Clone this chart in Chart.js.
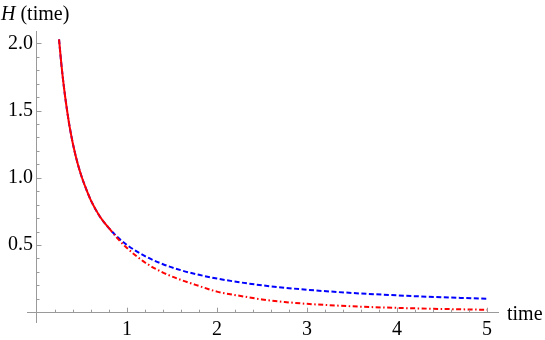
<!DOCTYPE html>
<html>
<head>
<meta charset="utf-8">
<script src="https://cdn.jsdelivr.net/npm/chart.js@4"></script>
<style>
  html, body { margin: 0; padding: 0; background: #fff; }
  #wrap { width: 545px; height: 340px; }
</style>
</head>
<body>
<div id="wrap"><canvas id="h-time"></canvas></div>
<script>
// values
const blueTimes = [0.245, 0.27, 0.3, 0.33, 0.36, 0.4, 0.45, 0.5, 0.55, 0.6, 0.7, 0.8, 0.9, 1.0, 1.2, 1.4, 1.6, 1.8, 2.0, 2.5, 3.0, 3.5, 4.0, 4.5, 5.0];
const blueValues = [2.03, 1.85, 1.67, 1.52, 1.39, 1.25, 1.11, 1.0, 0.91, 0.83, 0.71, 0.625, 0.555, 0.5, 0.417, 0.357, 0.312, 0.278, 0.25, 0.2, 0.167, 0.143, 0.125, 0.111, 0.1];

const solidTimes = [0.245, 0.27, 0.3, 0.33, 0.36, 0.4, 0.45, 0.5, 0.55, 0.6, 0.7, 0.8];
const solidValues = [2.03, 1.85, 1.67, 1.52, 1.39, 1.25, 1.11, 1.0, 0.91, 0.83, 0.71, 0.625];

const dotDashTimes = [0.8, 0.9, 1.0, 1.2, 1.4, 1.6, 1.8, 2.0, 2.25, 2.5, 2.75, 3.0, 3.25, 3.5, 3.75, 4.0, 4.5, 5.0];
const dotDashValues = [0.625, 0.545, 0.477, 0.37, 0.295, 0.24, 0.195, 0.153, 0.122, 0.095, 0.076, 0.062, 0.052, 0.044, 0.037, 0.032, 0.024, 0.018];

const xTickValues = [1, 2, 3, 4, 5];
const yTickValues = [0.5, 1.0, 1.5, 2.0];

const serif = '"Liberation Serif", "Times New Roman", serif';
const axisGray = "#9a9a9a";

function toPoints(ts, hs) {
  return ts.map((t, i) => ({ x: t, y: hs[i] }));
}

// small inward ticks like the original axes
const axisDecor = {
  id: "axisDecor",
  afterDraw(chart) {
    const { ctx, scales } = chart;
    const x = scales.x, y = scales.y;
    const x0 = x.getPixelForValue(0);
    const y0 = y.getPixelForValue(0);

    ctx.save();
    ctx.strokeStyle = axisGray;
    ctx.lineWidth = 1;
    ctx.beginPath();
    for (let k = 1; k <= 25; k++) {
      const v = k * 0.2;
      const px = Math.round(x.getPixelForValue(v)) + 0.5;
      const len = k % 5 === 0 ? 4.5 : 2.5;
      ctx.moveTo(px, y0);
      ctx.lineTo(px, y0 - len);
    }
    for (let k = 1; k <= 20; k++) {
      const v = k * 0.1;
      const py = Math.round(y.getPixelForValue(v)) + 0.5;
      const len = k % 5 === 0 ? 4.5 : 2.5;
      ctx.moveTo(x0, py);
      ctx.lineTo(x0 + len, py);
    }
    ctx.stroke();

    ctx.fillStyle = "#000";
    ctx.textBaseline = "alphabetic";
    ctx.textAlign = "left";
    ctx.font = "italic 20px " + serif;
    ctx.fillText("H", 1, 20);
    const hw = ctx.measureText("H").width;
    ctx.font = "20px " + serif;
    ctx.fillText(" (time)", 1 + hw, 20);
    ctx.fillText("time", x.right + 9, y0 + 8);
    ctx.restore();
  },
};

document.addEventListener("DOMContentLoaded", () => {
  const ctx = document.getElementById("h-time").getContext("2d");

  new Chart(ctx, {
    type: "line",
    data: {
      datasets: [
        {
          label: "blue",
          data: toPoints(blueTimes, blueValues),
          borderColor: "#0000ff",
          borderWidth: 2,
          borderDash: [5, 2.5],
          pointRadius: 0,
          cubicInterpolationMode: "monotone",
          order: 3,
        },
        {
          label: "dot dash",
          data: toPoints(dotDashTimes, dotDashValues),
          borderColor: "#ff0000",
          borderWidth: 2,
          borderDash: [5, 2.5, 1.5, 2.5],
          pointRadius: 0,
          cubicInterpolationMode: "monotone",
          order: 2,
        },
        {
          label: "solid",
          data: toPoints(solidTimes, solidValues),
          borderColor: "#ff0000",
          borderWidth: 2,
          pointRadius: 0,
          cubicInterpolationMode: "monotone",
          order: 1,
        },
      ],
    },
    options: {
      responsive: true,
      maintainAspectRatio: false,
      animation: false,
      layout: {
        padding: { left: 27, right: 47, top: 31, bottom: 18 },
      },
      plugins: {
        legend: { display: false },
        tooltip: { enabled: false },
      },
      scales: {
        x: {
          type: "linear",
          position: { y: 0 },
          min: -0.111,
          max: 5.122,
          afterBuildTicks: (s) => {
            s.ticks = xTickValues.map((v) => ({ value: v }));
          },
          grid: { display: true, color: "rgba(0,0,0,0)", drawTicks: false },
          border: { display: true, color: axisGray, width: 1 },
          ticks: {
            autoSkip: false,
            maxRotation: 0,
            padding: 6,
            color: "#000",
            font: { family: serif, size: 20 },
            callback: (v) => String(v),
          },
        },
        y: {
          type: "linear",
          position: { x: 0 },
          min: -0.073,
          max: 2.092,
          afterBuildTicks: (s) => {
            s.ticks = yTickValues.map((v) => ({ value: v }));
          },
          grid: { display: true, color: "rgba(0,0,0,0)", drawTicks: false },
          border: { display: true, color: axisGray, width: 1 },
          ticks: {
            autoSkip: false,
            padding: 4,
            color: "#000",
            font: { family: serif, size: 20 },
            // label sits flush on the axis otherwise
            callback: (v) => v.toFixed(1) + "\u2009",
          },
        },
      },
    },
    plugins: [axisDecor],
  });
});
</script>
</body>
</html>
